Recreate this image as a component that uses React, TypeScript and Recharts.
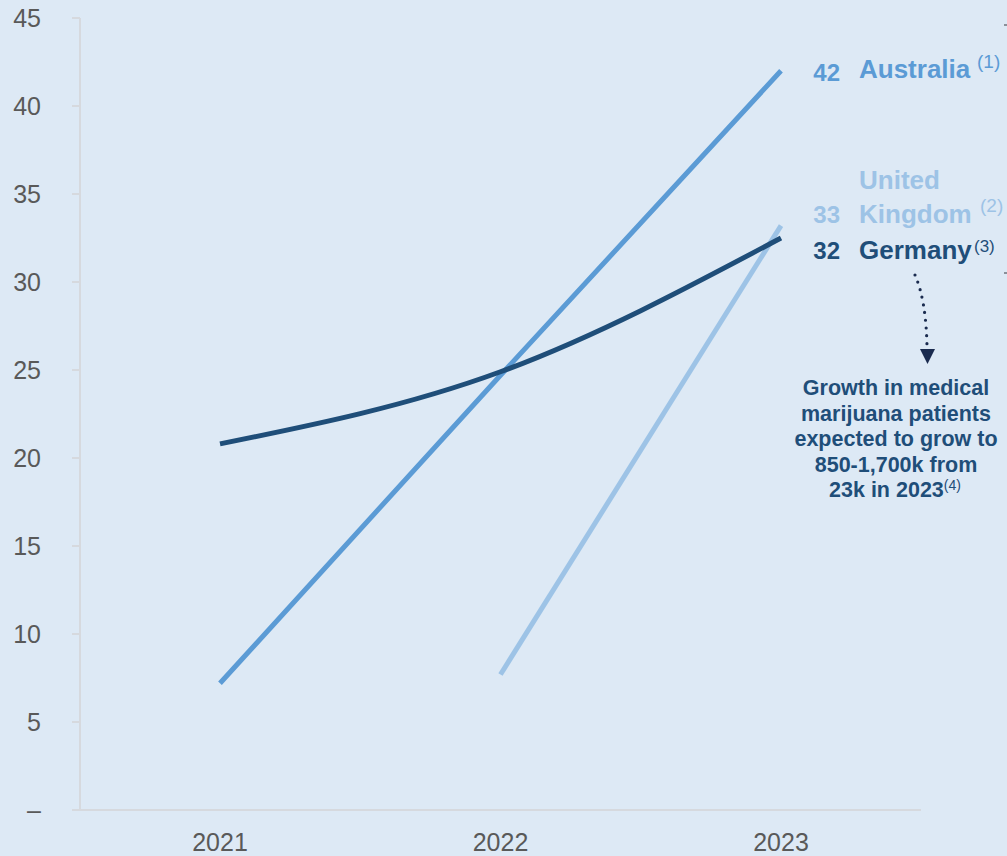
import { LineChart, Line, XAxis, YAxis } from 'recharts';

// values (patients, thousands)
const years = ['2021', '2022', '2023'];
const australia = [7.2, 24.7, 42.0];
const unitedKingdom = [null, 7.7, 33.2];
const germany = [20.8, 24.9, 32.5];
const yTicks = [0, 5, 10, 15, 20, 25, 30, 35, 40, 45];

const endLabels = {
  australia: { value: '42', lines: ['Australia'], note: '(1)' },
  unitedKingdom: { value: '33', lines: ['United', 'Kingdom'], note: '(2)' },
  germany: { value: '32', lines: ['Germany'], note: '(3)' },
};

const noteLines = [
  'Growth in medical',
  'marijuana patients',
  'expected to grow to',
  '850-1,700k from',
  '23k in 2023',
];

const COLORS = {
  australia: '#5b9bd5',
  unitedKingdom: '#9dc3e6',
  germany: '#1f4e79',
};

const BG = '#dde9f5';
const AXIS = '#d6d9de';
const TICK = '#595959';
const FONT = "Arial, 'Liberation Sans', sans-serif";

const data = years.map((year, i) => ({
  year,
  australia: australia[i],
  unitedKingdom: unitedKingdom[i],
  germany: germany[i],
}));

const last = years.length - 1;

// label drawn next to the final point of each series
function makeEndLabel(
  key: keyof typeof endLabels,
  dyNum: number,
  dyName: number,
  dyNote: number,
  noteX: number,
  noteSize: number,
) {
  const cfg = endLabels[key];
  const color = COLORS[key];
  return (props: any) => {
    const { x, y, index } = props;
    if (index !== last || x == null || y == null) return null;
    const n = cfg.lines.length;
    return (
      <g fontFamily={FONT} fill={color}>
        <text x={x + 59} y={y + dyNum} textAnchor="end" fontSize={24} fontWeight="bold">
          {cfg.value}
        </text>
        {cfg.lines.map((line, i) => (
          <text key={line} x={x + 78} y={y + dyName - (n - 1 - i) * 34} fontSize={26} fontWeight="bold">
            {line}
          </text>
        ))}
        <text x={x + noteX} y={y + dyNote} fontSize={noteSize}>
          {cfg.note}
        </text>
      </g>
    );
  };
}

function Annotation() {
  return (
    <svg width={1007} height={856} style={{ position: 'absolute', left: 0, top: 0, pointerEvents: 'none' }}>
      <path
        d="M915,275 Q926,300 927,346"
        fill="none"
        stroke="#1a2b4f"
        strokeWidth={3.2}
        strokeLinecap="round"
        strokeDasharray="0 7.8"
      />
      <polygon points="920,349 935,349 927.5,364" fill="#1a2b4f" />
      <g fontFamily={FONT} fontWeight="bold" fontSize={21.5} fill="#1f4e79" textAnchor="middle">
        {noteLines.map((line, i) => (
          <text key={line} x={i === noteLines.length - 1 ? 895 : 896} y={395 + i * 25.5}>
            {line}
            {i === noteLines.length - 1 && (
              <tspan fontSize={14} fontWeight="normal" dy={-7}>(4)</tspan>
            )}
          </text>
        ))}
      </g>
      <line x1={1004} y1={25} x2={1007} y2={25} stroke="#8a9099" strokeWidth={2} />
      <line x1={1004} y1={273} x2={1007} y2={273} stroke="#8a9099" strokeWidth={2} />
    </svg>
  );
}

export default function App() {
  return (
    <div style={{ position: 'absolute', left: 0, top: 0, width: 1007, height: 856, background: BG, overflow: 'hidden' }}>
      <LineChart width={1007} height={856} data={data} margin={{ top: 18, right: 86, left: 0, bottom: 0 }}>
        <XAxis
          dataKey="year"
          height={46}
          padding={{ left: 140, right: 140 }}
          tickLine={false}
          tickSize={0}
          tickMargin={23}
          axisLine={{ stroke: AXIS, strokeWidth: 2 }}
          tick={{ fontSize: 25, fill: TICK, fontFamily: FONT }}
        />
        <YAxis
          width={80}
          domain={[0, 45]}
          ticks={yTicks}
          interval={0}
          tickSize={8}
          tickMargin={31}
          tickFormatter={(v: number) => (v === 0 ? '–' : String(v))}
          tickLine={{ stroke: AXIS, strokeWidth: 2 }}
          axisLine={{ stroke: AXIS, strokeWidth: 2 }}
          tick={{ fontSize: 25, fill: TICK, fontFamily: FONT }}
        />
        <Line
          dataKey="unitedKingdom"
          type="linear"
          stroke={COLORS.unitedKingdom}
          strokeWidth={5}
          dot={false}
          activeDot={false}
          isAnimationActive={false}
          label={makeEndLabel('unitedKingdom', -3, -3, -14, 199, 19)}
        />
        <Line
          dataKey="australia"
          type="linear"
          stroke={COLORS.australia}
          strokeWidth={5}
          dot={false}
          activeDot={false}
          isAnimationActive={false}
          label={makeEndLabel('australia', 10, 7, -3, 196, 19)}
        />
        <Line
          dataKey="germany"
          type="monotone"
          stroke={COLORS.germany}
          strokeWidth={5}
          dot={false}
          activeDot={false}
          isAnimationActive={false}
          label={makeEndLabel('germany', 21, 21, 14, 193, 17)}
        />
      </LineChart>
      <Annotation />
    </div>
  );
}
